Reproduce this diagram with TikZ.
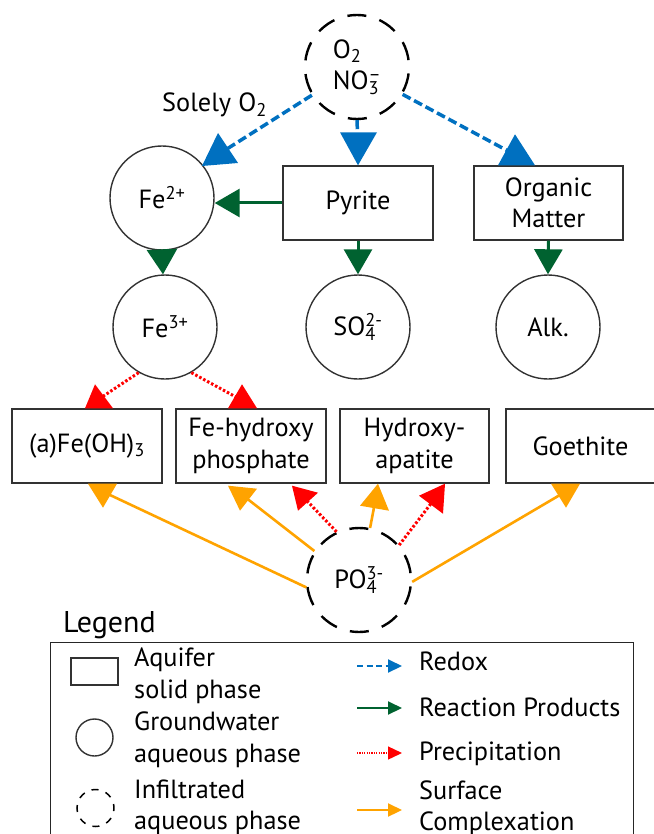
\documentclass[tikz,border=0pt]{standalone}
\usepackage{fontspec}
\setmainfont{PT Sans}
\usetikzlibrary{arrows.meta,calc}

\definecolor{redoxblue}{RGB}{0,112,192}
\definecolor{prodgreen}{RGB}{0,98,48}
\definecolor{precred}{RGB}{255,0,0}
\definecolor{complorange}{RGB}{255,163,0}
\definecolor{edgegray}{RGB}{50,50,50}

% ion with stacked subscript and superscript
\newcommand\chemion[2]{%
  \setbox0=\hbox{\textsubscript{#1}}%
  \setbox2=\hbox{\textsuperscript{#2}}%
  \ifdim\wd0>\wd2 \rlap{\copy2}\box0 \else \rlap{\copy0}\box2 \fi}

% filled triangular head drawn at a target
\newcommand\headtri[4]{\fill[#1] #2 -- #3 -- #4 -- cycle;}

\begin{document}
\begin{tikzpicture}[x=1pt,y=-1pt,
  every node/.style={font=\fontsize{26.3}{31.5}\selectfont},
  aqueous/.style={circle, draw=edgegray, line width=1.4pt, minimum size=104pt, inner sep=0pt},
  infiltrated/.style={circle, draw=black, line width=2.4pt, dash pattern=on 19pt off 13.7pt,
    dash phase=25.8pt, minimum size=104pt, inner sep=0pt, align=left},
  solidphase/.style={rectangle, draw=edgegray, line width=1.4pt, minimum width=150pt,
    minimum height=74pt, inner sep=0pt, align=center},
  redox/.style={draw=redoxblue, line width=3.5pt, dash pattern=on 9pt off 4pt},
  product/.style={draw=prodgreen, line width=3pt},
  precip/.style={draw=precred, line width=3pt, dash pattern=on 2.5pt off 2pt},
  complex/.style={draw=complorange, line width=2.6pt},
  lab/.style={anchor=base west, inner sep=0pt},
  labtwo/.style={anchor=west, inner sep=0pt, align=left},
]
\useasboundingbox (0,0) rectangle (653,834);

% ---- species ----
\node[infiltrated] (ox) at (357,67) {O\textsubscript{2}\\NO\chemion{3}{–}};
\node[aqueous] (fe2) at (162,198) {Fe\textsuperscript{2+}};
\node[solidphase] (pyr) at (358,203) {Pyrite};
\node[solidphase, minimum width=149pt] (om) at (548.5,203) {Organic\\Matter};
\node[aqueous] (fe3) at (165,327) {Fe\textsuperscript{3+}};
\node[aqueous] (so4) at (358,327) {SO\chemion{4}{2-}};
\node[aqueous] (alk) at (548,327) {Alk.};
\node[solidphase] (feoh) at (87,446) {(a)Fe(OH)\textsubscript{3}};
\node[solidphase] (fehp) at (251,446) {Fe-hydroxy\\phosphate};
\node[solidphase, minimum width=149pt] (hap) at (414.5,446) {Hydroxy-\\apatite};
\node[solidphase, minimum width=149pt] (goe) at (580.5,446) {Goethite};
\node[infiltrated] (po) at (359,580) {PO\chemion{4}{3-}};

\node[lab] (solely) at (162,112) {Solely O\textsubscript{2}};

% ---- redox ----
\draw[redox] (ox.212) -- ($(fe2.center)+(57,-44)$);
\headtri{redoxblue}{($(fe2.center)+(40,-32)$)}{($(fe2.center)+(76,-35)$)}{($(fe2.center)+(56,-65)$)}
\draw[redox] (ox.south) -- ($(pyr.north)+(0,-20)$);
\headtri{redoxblue}{($(pyr.north)+(-18,-33)$)}{($(pyr.north)+(19,-33)$)}{(pyr.north)}
\draw[redox] (ox.329) -- ($(om.north)+(-32.5,-10)$);
\headtri{redoxblue}{($(om.north)+(-50.5,0)$)}{($(om.north)+(-13.5,0)$)}{($(om.north)+(-33.5,-31)$)}

% ---- reaction products ----
\draw[product, -{Triangle[length=25pt,width=28pt]}] (pyr.west) -- (pyr.west -| fe2.east);
\draw[product, -{Triangle[length=25pt,width=30pt]}] (fe2.south) -- ($(fe3.north)+(-2,0)$);
\draw[product, -{Triangle[length=25pt,width=28pt]}] (pyr.south) -- (so4.north);
\draw[product, -{Triangle[length=25pt,width=28pt]}] (om.south) -- (alk.north);

% ---- precipitation ----
\draw[precip] (fe3.240) -- ($(feoh.north)+(10,-8)$);
\headtri{precred}{($(feoh.north)+(-2,0)$)}{($(feoh.north)+(26,0)$)}{($(feoh.north)+(8,-24)$)}
\draw[precip] (fe3.300) -- ($(fehp.north)+(-9,-8)$);
\headtri{precred}{($(fehp.north)+(-23,0)$)}{($(fehp.north)+(6,0)$)}{($(fehp.north)+(-9,-24)$)}
\draw[precip] (po.115) -- ($(fehp.south)+(52,13)$);
\headtri{precred}{($(fehp.south)+(41,2)$)}{($(fehp.south)+(67,9)$)}{($(fehp.south)+(47,27)$)}
\draw[precip] (po.41) -- ($(hap.south)+(21,14)$);
\headtri{precred}{($(hap.south)+(30.5,0)$)}{($(hap.south)+(4.5,12)$)}{($(hap.south)+(28.5,30)$)}

% ---- surface complexation ----
\draw[complex] (po.188) -- ($(feoh.south)+(16,8)$);
\headtri{complorange}{($(feoh.south)+(1,0)$)}{($(feoh.south)+(30,0)$)}{($(feoh.south)+(16,24)$)}
\draw[complex] (po.147) -- ($(fehp.south)+(-9,11)$);
\headtri{complorange}{($(fehp.south)+(-23,2)$)}{($(fehp.south)+(6,5)$)}{($(fehp.south)+(-11,27)$)}
\draw[complex] (po.78) -- ($(hap.south)+(-39,16)$);
\headtri{complorange}{($(hap.south)+(-36.5,0)$)}{($(hap.south)+(-54.5,22)$)}{($(hap.south)+(-25.5,27)$)}
\draw[complex] (po.358) -- ($(goe.south)+(-15,8)$);
\headtri{complorange}{($(goe.south)+(-29.5,0)$)}{($(goe.south)+(-0.5,0)$)}{($(goe.south)+(-14.5,24)$)}

% ---- legend ----
\node[lab, font=\fontsize{30}{34}\selectfont] (legtitle) at (63,632) {Legend};
\node[draw=black!85, line width=1.4pt, anchor=north west, minimum width=583pt,
  minimum height=220pt, inner sep=0pt] (legbox) at (50,642) {};

\node[solidphase, minimum width=47pt, minimum height=27pt] (icsolid) at (94.5,671.5) {};
\node[aqueous, minimum size=37pt] (icaq) at (94.5,737.5) {};
\node[circle, draw=black, line width=1.5pt, dash pattern=on 7pt off 7.5pt, dash phase=3pt,
  minimum size=37pt, inner sep=0pt] (icinf) at (95.5,808) {};
\node[labtwo] (ltsolid) at (134,676) {Aquifer\\solid phase};
\node[labtwo] (ltaq) at (134,740) {Groundwater\\aqueous phase};
\node[labtwo] (ltinf) at (134,807.5) {Infiltrated\\aqueous phase};

\node[lab] (lredox) at (419,670) {Redox};
\node[lab] (lprod) at (419,716) {Reaction Products};
\node[lab] (lprec) at (419,760) {Precipitation};
\node[labtwo] (lsurf) at (419,808.5) {Surface\\Complexation};

\draw[draw=redoxblue, line width=2pt, dash pattern=on 6pt off 3.5pt,
  -{Triangle[length=14pt,width=13pt]}]
  ($(lredox.base west)+(-62,-4)$) -- ($(lredox.base west)+(-17,-4)$);
\draw[draw=prodgreen, fill=prodgreen, line width=2pt, -{Triangle[length=14pt,width=13pt]}]
  ($(lprod.base west)+(-62,-8)$) -- ($(lprod.base west)+(-17,-8)$);
\draw[draw=precred, line width=1.3pt, dash pattern=on 1.2pt off 1.2pt,
  -{Triangle[length=14pt,width=13pt]}]
  ($(lprec.base west)+(-62,-7)$) -- ($(lprec.base west)+(-17,-7)$);
\draw[draw=complorange, line width=2.2pt, -{Triangle[length=14pt,width=13pt]}]
  ($(lsurf.west)+(-62,1.5)$) -- ($(lsurf.west)+(-17,1.5)$);
\end{tikzpicture}
\end{document}
